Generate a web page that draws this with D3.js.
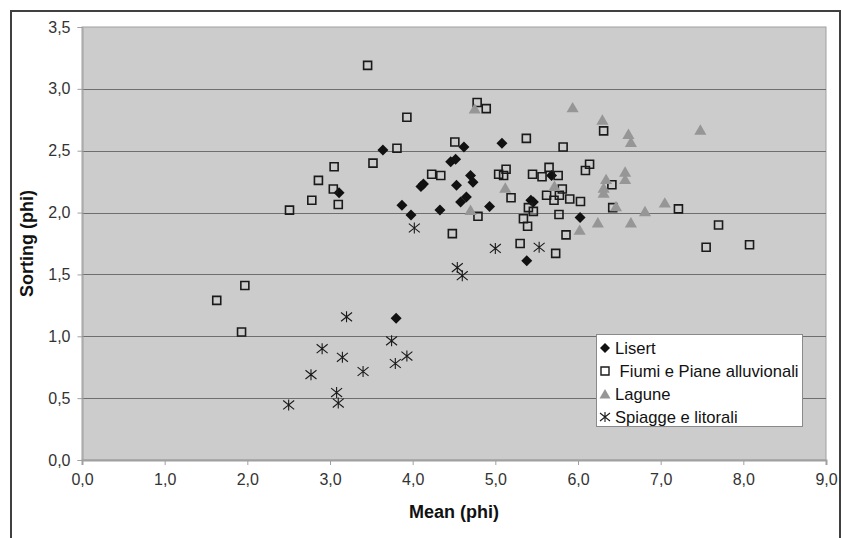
<!DOCTYPE html>
<html>
<head>
<meta charset="utf-8">
<script src="https://cdn.jsdelivr.net/npm/d3@7"></script>
<style>
  body { margin: 0; background: #fff; }
  svg { display: block; font-family: "Liberation Sans", Arial, sans-serif; }
</style>
</head>
<body>
<div id="chart"></div>
<script>
const width = 842;
const height = 538;

// Lisert (filled diamonds)
const lisert = [
  [3.64, 2.505], [3.11, 2.16], [4.62, 2.53], [5.08, 2.56], [4.46, 2.41],
  [4.52, 2.43], [4.10, 2.21], [4.13, 2.23], [4.53, 2.22], [4.70, 2.30],
  [4.73, 2.245], [4.65, 2.125], [4.58, 2.085], [4.93, 2.05], [3.87, 2.06],
  [3.98, 1.98], [4.33, 2.02], [5.43, 2.10], [5.46, 2.085], [5.68, 2.30],
  [6.025, 1.96], [5.38, 1.61], [3.80, 1.146]
];

// Fiumi e Piane alluvionali (open squares)
const fiumi = [
  [1.63, 1.29], [1.97, 1.41], [1.93, 1.035], [2.51, 2.02], [2.78, 2.10],
  [2.86, 2.26], [3.05, 2.37], [3.04, 2.19], [3.10, 2.065], [3.455, 3.19],
  [3.52, 2.40], [3.81, 2.52], [3.93, 2.77], [4.23, 2.31], [4.34, 2.30],
  [4.48, 1.83], [4.51, 2.57], [4.78, 2.89], [4.89, 2.84], [4.79, 1.97],
  [5.04, 2.31], [5.13, 2.35], [5.10, 2.30], [5.19, 2.12], [5.30, 1.75],
  [5.375, 2.60], [5.45, 2.31], [5.565, 2.29], [5.65, 2.365], [5.76, 2.30],
  [5.81, 2.19], [5.62, 2.14], [5.71, 2.10], [5.775, 2.14], [5.82, 2.53],
  [5.40, 2.04], [5.46, 2.01], [5.34, 1.95], [5.39, 1.89], [5.77, 1.985],
  [5.855, 1.82], [5.73, 1.67], [5.90, 2.11], [6.03, 2.09], [6.09, 2.34],
  [6.14, 2.39], [6.31, 2.66], [6.41, 2.225], [6.42, 2.04], [7.215, 2.03],
  [7.55, 1.72], [7.70, 1.90], [8.075, 1.74]
];

// Lagune (grey triangles)
const lagune = [
  [4.75, 2.84], [5.12, 2.20], [4.70, 2.02], [5.715, 2.215], [5.935, 2.85],
  [6.295, 2.75], [6.64, 2.57], [6.61, 2.635], [6.57, 2.33], [6.57, 2.27],
  [6.34, 2.27], [6.31, 2.20], [6.31, 2.16], [6.46, 2.05], [6.81, 2.01],
  [7.05, 2.08], [6.24, 1.92], [6.64, 1.92], [6.02, 1.86], [7.48, 2.67]
];

// Spiagge e litorali (star markers)
const spiagge = [
  [4.02, 1.875], [5.00, 1.71], [5.53, 1.72], [4.54, 1.555], [4.60, 1.49],
  [3.20, 1.157], [3.745, 0.963], [2.905, 0.90], [3.15, 0.83], [3.93, 0.84],
  [3.79, 0.78], [2.77, 0.69], [3.40, 0.715], [3.08, 0.545], [3.10, 0.46],
  [2.50, 0.445]
];

const seriesNames = ["Lisert", " Fiumi e Piane alluvionali", "Lagune", "Spiagge e litorali"];
const xTicks = d3.range(0, 9.01, 1);
const yTicks = d3.range(0, 3.51, 0.5);

const plot = { left: 82, top: 27, right: 826, bottom: 460 };

const itFormat = d3.formatLocale({ decimal: ",", thousands: ".", grouping: [3], currency: ["", "€"] }).format(".1f");

const x = d3.scaleLinear().domain([0, 9]).range([plot.left, plot.right]);
const y = d3.scaleLinear().domain([0, 3.5]).range([plot.bottom, plot.top]);

const svg = d3.select("#chart").append("svg")
  .attr("width", width)
  .attr("height", height);

svg.append("rect").attr("width", width).attr("height", height).attr("fill", "#fff");

// outer chart border
svg.append("rect")
  .attr("x", 11).attr("y", 11)
  .attr("width", 829).attr("height", 560)
  .attr("fill", "none")
  .attr("stroke", "#404040")
  .attr("stroke-width", 2);

// plot area
svg.append("rect")
  .attr("x", plot.left).attr("y", plot.top)
  .attr("width", plot.right - plot.left).attr("height", plot.bottom - plot.top)
  .attr("fill", "#cccccc")
  .attr("stroke", "#a0a0a0")
  .attr("stroke-width", 1);

// gridlines
svg.append("g")
  .selectAll("line")
  .data(yTicks.filter((t) => t > 0 && t < 3.5))
  .enter()
  .append("line")
  .attr("x1", plot.left).attr("x2", plot.right)
  .attr("y1", (d) => Math.round(y(d)) + 0.5).attr("y2", (d) => Math.round(y(d)) + 0.5)
  .attr("stroke", "#6e6e6e");

// y axis
const yAxis = svg.append("g")
  .attr("transform", `translate(${plot.left + 0.5},0)`)
  .call(d3.axisLeft(y).tickValues(yTicks).tickSize(5).tickPadding(7).tickFormat(itFormat));
yAxis.select(".domain").attr("stroke", "#a0a0a0");
yAxis.selectAll(".tick line").attr("stroke", "#a0a0a0");
yAxis.selectAll("text").attr("font-size", 16).attr("fill", "#333");

// x axis
const xAxis = svg.append("g")
  .attr("transform", `translate(0,${plot.bottom})`)
  .call(d3.axisBottom(x).tickValues(xTicks).tickSize(5).tickPadding(9).tickFormat(itFormat));
xAxis.select(".domain").attr("stroke", "#a0a0a0").attr("stroke-width", 2);
xAxis.selectAll(".tick line").attr("stroke", "#a0a0a0");
xAxis.selectAll("text").attr("font-size", 16).attr("fill", "#333");

// axis titles
svg.append("text")
  .attr("x", (plot.left + plot.right) / 2)
  .attr("y", 518)
  .attr("text-anchor", "middle")
  .attr("font-size", 18)
  .attr("font-weight", "bold")
  .attr("fill", "#111")
  .text("Mean (phi)");

svg.append("text")
  .attr("transform", `translate(33,${(plot.top + plot.bottom) / 2}) rotate(-90)`)
  .attr("text-anchor", "middle")
  .attr("font-size", 18)
  .attr("font-weight", "bold")
  .attr("fill", "#111")
  .text("Sorting (phi)");

// marker shapes
const diamondPath = (r) => `M0,${-r}L${r},0L0,${r}L${-r},0Z`;
const squarePath = (r) => `M${-r},${-r}H${r}V${r}H${-r}Z`;
const trianglePath = (r) => `M0,${-r}L${r * 1.1},${r * 0.9}L${-r * 1.1},${r * 0.9}Z`;
const starPath = (r) =>
  `M${-r},${-r * 0.8}L${r},${r * 0.8}M${-r},${r * 0.8}L${r},${-r * 0.8}M0,${-r}V${r}`;

const markers = [
  { data: lisert, d: diamondPath(5.5), fill: "#111", stroke: "none", sw: 0 },
  { data: fiumi, d: squarePath(4), fill: "none", stroke: "#1a1a1a", sw: 1.6 },
  { data: lagune, d: trianglePath(5.5), fill: "#969696", stroke: "none", sw: 0 },
  { data: spiagge, d: starPath(5.5), fill: "none", stroke: "#1a1a1a", sw: 1.1 }
];

markers.forEach((m) => {
  svg.append("g")
    .selectAll("path")
    .data(m.data)
    .enter()
    .append("path")
    .attr("transform", (p) => `translate(${x(p[0])},${y(p[1])})`)
    .attr("d", m.d)
    .attr("fill", m.fill)
    .attr("stroke", m.stroke)
    .attr("stroke-width", m.sw);
});

// legend
const legend = svg.append("g");
legend.append("rect")
  .attr("x", 596.5).attr("y", 334.5)
  .attr("width", 206).attr("height", 92)
  .attr("fill", "#fff")
  .attr("stroke", "#8a8a8a");

const legendMarkers = [
  { d: diamondPath(5), fill: "#111", stroke: "none", sw: 0 },
  { d: squarePath(4), fill: "none", stroke: "#1a1a1a", sw: 1.4 },
  { d: trianglePath(5), fill: "#969696", stroke: "none", sw: 0 },
  { d: starPath(5), fill: "none", stroke: "#1a1a1a", sw: 1.1 }
];

seriesNames.forEach((name, i) => {
  const cy = 348 + i * 23;
  const lm = legendMarkers[i];
  legend.append("path")
    .attr("transform", `translate(605,${cy})`)
    .attr("d", lm.d)
    .attr("fill", lm.fill)
    .attr("stroke", lm.stroke)
    .attr("stroke-width", lm.sw);
  legend.append("text")
    .attr("x", 615)
    .attr("y", cy + 6)
    .attr("font-size", 16.6)
    .attr("fill", "#111")
    .attr("xml:space", "preserve")
    .style("white-space", "pre")
    .text(name);
});
</script>
</body>
</html>
